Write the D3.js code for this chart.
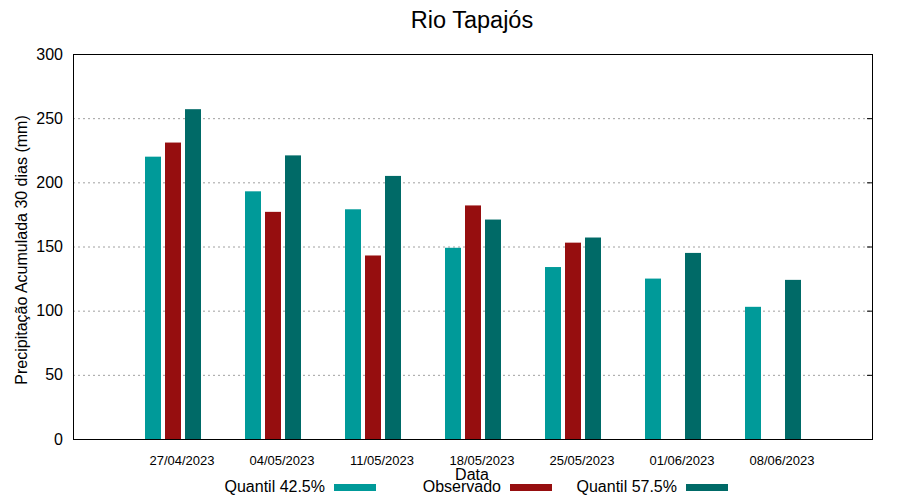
<!DOCTYPE html>
<html>
<head>
<meta charset="utf-8">
<script src="https://cdn.jsdelivr.net/npm/d3@7"></script>
<style>
  body { margin: 0; background: #fff; }
  text { font-family: "Liberation Sans", Arial, sans-serif; }
</style>
</head>
<body>
<div id="chart"></div>
<script>
const dates = ['27/04/2023', '04/05/2023', '11/05/2023', '18/05/2023', '25/05/2023', '01/06/2023', '08/06/2023']
const q425 = [220, 193, 179, 149, 134, 125, 103]
const observado = [231, 177, 143, 182, 153, null, null]
const q575 = [257, 221, 205, 171, 157, 145, 124]
const yTicks = [0, 50, 100, 150, 200, 250, 300]

const series = [
  {name: 'Quantil 42.5%', values: q425, color: '#009a99'},
  {name: 'Observado', values: observado, color: '#960e0f'},
  {name: 'Quantil 57.5%', values: q575, color: '#006a67'}
]

const width = 900, height = 500
const plot = {left: 73, right: 873, top: 54, bottom: 439}

const svg = d3.select('#chart').append('svg')
  .attr('width', width)
  .attr('height', height)

const x = d3.scaleLinear().domain([-1, dates.length]).range([plot.left, plot.right])
const inner = d3.scaleBand().domain(series.map(s => s.name))
  .range([-30, 30]).paddingInner(0.2).paddingOuter(0.1)
const y = d3.scaleLinear().domain([0, 300]).range([plot.bottom, plot.top])

// grid
svg.append('g')
  .selectAll('line')
  .data(yTicks.filter(d => d > 0 && d < 300))
  .enter().append('line')
  .attr('x1', plot.left).attr('x2', plot.right)
  .attr('y1', d => y(d) + 0.5).attr('y2', d => y(d) + 0.5)
  .attr('stroke', '#a0a0a0')
  .attr('stroke-dasharray', '2,3')

// bars
series.forEach(s => {
  svg.append('g')
    .selectAll('rect')
    .data(s.values.map((v, i) => ({v, i})).filter(d => d.v != null))
    .enter().append('rect')
    .attr('x', d => x(d.i) + inner(s.name))
    .attr('width', inner.bandwidth())
    .attr('y', d => y(d.v))
    .attr('height', d => y(0) - y(d.v))
    .attr('fill', s.color)
})

// right mirror ticks
svg.append('g')
  .selectAll('line')
  .data(yTicks)
  .enter().append('line')
  .attr('x1', plot.right - 6).attr('x2', plot.right)
  .attr('y1', d => y(d) + 0.5).attr('y2', d => y(d) + 0.5)
  .attr('stroke', '#000')

// border
svg.append('rect')
  .attr('x', plot.left + 0.5).attr('y', plot.top + 0.5)
  .attr('width', plot.right - plot.left - 1).attr('height', plot.bottom - plot.top)
  .attr('fill', 'none').attr('stroke', '#000')

// y axis labels
const yAxis = d3.axisLeft(y).tickValues(yTicks).tickSize(0).tickPadding(10)
svg.append('g')
  .attr('transform', `translate(${plot.left}, 0)`)
  .call(yAxis)
  .call(g => g.select('.domain').remove())
  .selectAll('text')
  .style('font-size', '16px')
  .style('font-family', '"Liberation Sans", Arial, sans-serif')
  .attr('fill', '#000')

// x tick labels
svg.append('g')
  .selectAll('text')
  .data(dates)
  .enter().append('text')
  .attr('x', (d, i) => x(i) + 9)
  .attr('y', 465)
  .attr('text-anchor', 'middle')
  .style('font-size', '13px')
  .text(d => d)

// titles
svg.append('text')
  .attr('x', 472).attr('y', 28)
  .attr('text-anchor', 'middle')
  .style('font-size', '23.5px')
  .text('Rio Tapajós')

svg.append('text')
  .attr('x', 472).attr('y', 480)
  .attr('text-anchor', 'middle')
  .style('font-size', '16px')
  .text('Data')

svg.append('text')
  .attr('transform', 'translate(27, 250) rotate(-90)')
  .attr('text-anchor', 'middle')
  .style('font-size', '16px')
  .text('Precipitação Acumulada 30 dias (mm)')

// legend
const legendX = [325, 501, 677]
const legend = svg.append('g')
  .selectAll('g')
  .data(series)
  .enter().append('g')
  .attr('transform', (d, i) => `translate(${legendX[i]}, 0)`)
legend.append('text')
  .attr('x', 0).attr('y', 492)
  .attr('text-anchor', 'end')
  .style('font-size', '16px')
  .text(d => d.name)
legend.append('rect')
  .attr('x', 9).attr('y', 484)
  .attr('width', 42).attr('height', 7)
  .attr('fill', d => d.color)
</script>
</body>
</html>
